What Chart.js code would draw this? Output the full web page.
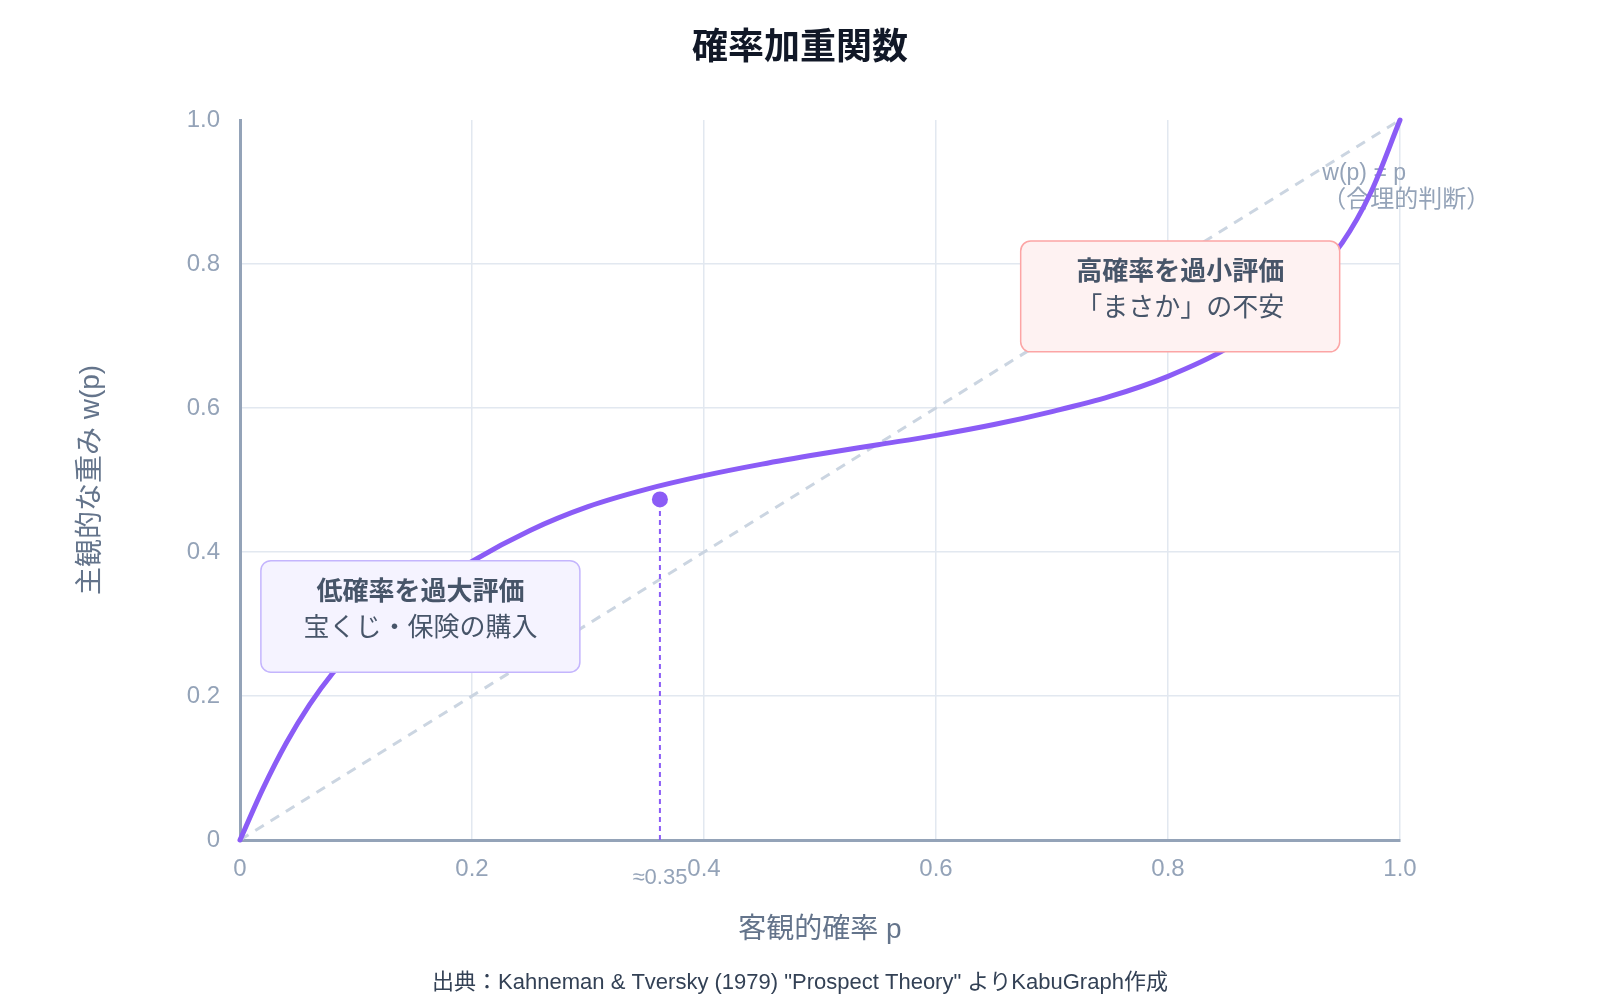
<!DOCTYPE html>
<html lang="ja">
<head>
<meta charset="utf-8">
<title>確率加重関数</title>
<script src="https://cdn.jsdelivr.net/npm/chart.js@4.4.1/dist/chart.umd.min.js"></script>
<style>
  html, body { margin: 0; padding: 0; background: #ffffff; }
  #wrap { width: 1600px; height: 1000px; position: relative; }
</style>
</head>
<body>
<div id="wrap"><canvas id="weightChart"></canvas></div>
<script>
// 確率加重関数の曲線
const probX = [0, 0.02, 0.04, 0.06, 0.08, 0.10, 0.12, 0.15, 0.20, 0.25, 0.30, 0.35, 0.40, 0.45, 0.50, 0.55, 0.60, 0.65, 0.70, 0.75, 0.80, 0.85, 0.90, 0.95, 0.975, 1.0];
const weightY = [0, 0.072, 0.135, 0.188, 0.232, 0.268, 0.297, 0.334, 0.387, 0.430, 0.463, 0.487, 0.506, 0.522, 0.536, 0.549, 0.562, 0.577, 0.595, 0.616, 0.644, 0.682, 0.738, 0.829, 0.900, 1.0];

// 合理的判断 w(p) = p
const diagX = [0, 1];
const diagY = [0, 1];

// 曲線と対角線の交点付近のマーカー
const markerX = [0.362];
const markerY = [0.473];
const markerLabel = ['≈0.35'];

const tickValues = [0, 0.2, 0.4, 0.6, 0.8, 1.0];
const tickLabels = ['0', '0.2', '0.4', '0.6', '0.8', '1.0'];

const titleText = '確率加重関数';
const diagLabel = ['w(p) = p', '（合理的判断）'];
const lowNote = ['低確率を過大評価', '宝くじ・保険の購入'];
const highNote = ['高確率を過小評価', '「まさか」の不安'];
const sourceText = '出典：Kahneman & Tversky (1979) "Prospect Theory" よりKabuGraph作成';

const FONT = '"Liberation Sans", "Noto Sans CJK JP", sans-serif';

function roundRect(ctx, x, y, w, h, r) {
    ctx.beginPath();
    ctx.moveTo(x + r, y);
    ctx.arcTo(x + w, y, x + w, y + h, r);
    ctx.arcTo(x + w, y + h, x, y + h, r);
    ctx.arcTo(x, y + h, x, y, r);
    ctx.arcTo(x, y, x + w, y, r);
    ctx.closePath();
}

function drawNote(chart, lines, x0, x1, y0, y1, fill, stroke) {
    const {ctx, scales: {x, y}} = chart;
    const left = x.getPixelForValue(x0);
    const right = x.getPixelForValue(x1);
    const top = y.getPixelForValue(y0);
    const bottom = y.getPixelForValue(y1);
    ctx.save();
    roundRect(ctx, left, top, right - left, bottom - top, 10);
    ctx.fillStyle = fill;
    ctx.fill();
    ctx.lineWidth = 1.5;
    ctx.strokeStyle = stroke;
    ctx.stroke();
    ctx.fillStyle = '#475569';
    ctx.textAlign = 'center';
    ctx.textBaseline = 'middle';
    const cx = (left + right) / 2;
    ctx.font = 'bold 26px ' + FONT;
    ctx.fillText(lines[0], cx, top + 32);
    ctx.font = '26px ' + FONT;
    ctx.fillText(lines[1], cx, top + 68);
    ctx.restore();
}

const overlay = {
    id: 'overlay',
    beforeDatasetsDraw(chart) {
        const {ctx, scales: {x, y}} = chart;
        ctx.save();
        ctx.fillStyle = '#94a3b8';
        ctx.textAlign = 'left';
        ctx.textBaseline = 'middle';
        ctx.font = '23px ' + FONT;
        ctx.fillText(diagLabel[0], x.getPixelForValue(0.933), y.getPixelForValue(0.926));
        ctx.font = '24px ' + FONT;
        ctx.fillText(diagLabel[1], x.getPixelForValue(0.933), y.getPixelForValue(0.889));
        ctx.restore();
    },
    afterDatasetsDraw(chart) {
        drawNote(chart, lowNote, 0.018, 0.293, 0.388, 0.233, '#f5f3ff', '#c4b5fd');
        drawNote(chart, highNote, 0.673, 0.948, 0.832, 0.678, '#fef2f2', '#fca5a5');
    },
    afterDraw(chart) {
        const {ctx, scales: {x}} = chart;
        ctx.save();
        ctx.textAlign = 'center';
        ctx.textBaseline = 'middle';
        ctx.font = 'bold 36px ' + FONT;
        ctx.fillStyle = '#111827';
        ctx.fillText(titleText, chart.width / 2, 49);
        ctx.font = '22px ' + FONT;
        ctx.fillStyle = '#94a3b8';
        ctx.fillText(markerLabel[0], x.getPixelForValue(markerX[0]), chart.chartArea.bottom + 38);
        ctx.font = '22px ' + FONT;
        ctx.fillStyle = '#334155';
        ctx.fillText(sourceText, chart.width / 2, 983);
        ctx.restore();
    }
};

new Chart(document.getElementById('weightChart'), {
    type: 'scatter',
    data: {
        datasets: [
            {
                label: 'マーカー',
                data: markerX.map((v, i) => ({x: v, y: markerY[i]})),
                pointRadius: 8,
                pointBackgroundColor: '#8b5cf6',
                pointBorderWidth: 0,
                showLine: false,
                order: 0,
                clip: false,
            },
            {
                label: 'w(p)',
                data: probX.map((v, i) => ({x: v, y: weightY[i]})),
                showLine: true,
                borderColor: '#8b5cf6',
                borderWidth: 5,
                borderCapStyle: 'round',
                pointRadius: 0,
                cubicInterpolationMode: 'monotone',
                order: 1,
                clip: false,
            },
            {
                label: '補助線',
                data: [{x: markerX[0], y: 0}, {x: markerX[0], y: markerY[0]}],
                showLine: true,
                borderColor: '#8b5cf6',
                borderWidth: 2,
                borderDash: [5, 4],
                pointRadius: 0,
                order: 2,
            },
            {
                label: 'w(p) = p',
                data: diagX.map((v, i) => ({x: v, y: diagY[i]})),
                showLine: true,
                borderColor: '#cbd5e1',
                borderWidth: 3,
                borderDash: [10, 8],
                pointRadius: 0,
                order: 3,
            },
        ],
    },
    options: {
        responsive: true,
        maintainAspectRatio: false,
        animation: false,
        layout: { padding: { left: 0, right: 200, top: 120, bottom: 0 } },
        plugins: {
            legend: { display: false },
            tooltip: { enabled: false },
        },
        scales: {
            x: {
                type: 'linear',
                min: 0,
                max: 1,
                afterFit(scale) { scale.height = 160; },
                afterBuildTicks(scale) { scale.ticks = tickValues.map(v => ({value: v})); },
                border: { color: '#94a3b8', width: 3 },
                grid: { color: '#e2e8f0', lineWidth: 1.5, drawTicks: false },
                ticks: {
                    padding: 15,
                    color: '#94a3b8',
                    font: { family: FONT, size: 24 },
                    callback: (v) => tickLabels[tickValues.indexOf(v)],
                },
                title: {
                    display: true,
                    text: '客観的確率 p',
                    color: '#64748b',
                    font: { family: FONT, size: 28 },
                    padding: { top: 0, bottom: 53.2 },
                },
            },
            y: {
                type: 'linear',
                min: 0,
                max: 1,
                afterFit(scale) { scale.width = 240; },
                afterBuildTicks(scale) { scale.ticks = tickValues.map(v => ({value: v})); },
                border: { color: '#94a3b8', width: 3 },
                grid: {
                    color: (c) => (c.tick && c.tick.value === 1 ? 'rgba(0,0,0,0)' : '#e2e8f0'),
                    lineWidth: 1.5,
                    drawTicks: false,
                },
                ticks: {
                    padding: 20,
                    color: '#94a3b8',
                    font: { family: FONT, size: 24 },
                    callback: (v) => tickLabels[tickValues.indexOf(v)],
                },
                title: {
                    display: true,
                    text: '主観的な重み w(p)',
                    color: '#64748b',
                    font: { family: FONT, size: 28 },
                    padding: { top: 74.2, bottom: 0 },
                },
            },
        },
    },
    plugins: [overlay],
});
</script>
</body>
</html>
